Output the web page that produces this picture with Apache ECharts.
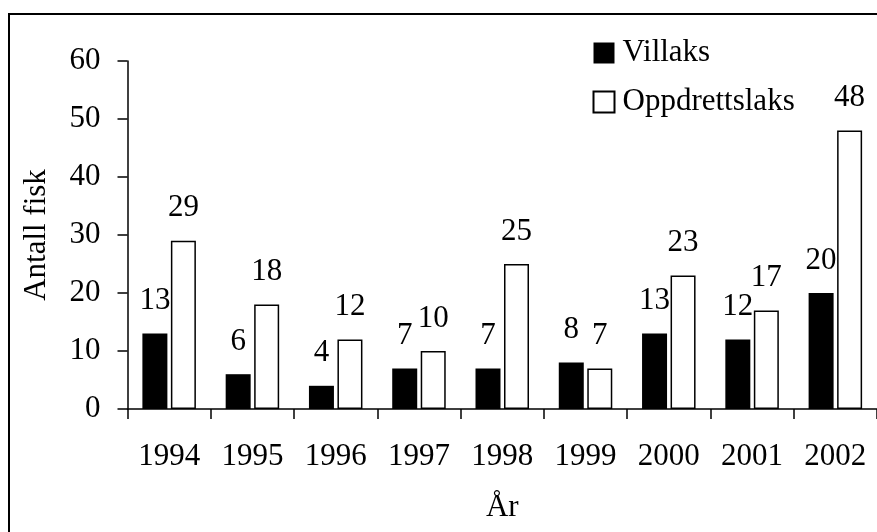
<!DOCTYPE html>
<html>
<head>
<meta charset="utf-8">
<script src="https://cdn.jsdelivr.net/npm/echarts@6/dist/echarts.min.js"></script>
<style>
  html, body { margin: 0; padding: 0; background: #fff; }
  #main { width: 877px; height: 532px; }
</style>
</head>
<body>
<div id="main"></div>
<script>
// data
var years = ['1994', '1995', '1996', '1997', '1998', '1999', '2000', '2001', '2002'];
var villaks = [13, 6, 4, 7, 7, 8, 13, 12, 20];
var oppdrettslaks = [29, 18, 12, 10, 25, 7, 23, 17, 48];

var font = "'Liberation Serif', 'Times New Roman', serif";

var chart = echarts.init(document.getElementById('main'));
var option = {
  animation: false,
  backgroundColor: '#fff',
  textStyle: { fontFamily: font, color: '#000' },
  grid: { left: 127.5, top: 61, width: 751, height: 348 },
  // ramme rundt figuren
  graphic: [{
    type: 'rect',
    shape: { x: 9, y: 14, width: 900, height: 600 },
    style: { fill: 'none', stroke: '#000', lineWidth: 2 },
    silent: true
  }],
  legend: {
    orient: 'vertical',
    left: 592.5,
    top: 37.5,
    padding: 0,
    itemWidth: 21,
    itemHeight: 21,
    itemGap: 18,
    icon: 'rect',
    textStyle: { fontFamily: font, fontSize: 31, color: '#000', padding: [0, 0, 0, 3] },
    data: ['Villaks', 'Oppdrettslaks']
  },
  xAxis: {
    type: 'category',
    data: years,
    name: 'År',
    nameLocation: 'middle',
    nameGap: 83,
    nameTextStyle: { fontFamily: font, fontSize: 31, color: '#000' },
    axisLine: { lineStyle: { color: '#000', width: 1.5 } },
    axisTick: { show: true, alignWithLabel: false, inside: false, length: 10, lineStyle: { color: '#000', width: 1.5 } },
    axisLabel: { fontFamily: font, fontSize: 31, color: '#000', margin: 32 },
    splitLine: { show: false }
  },
  yAxis: {
    type: 'value',
    min: 0,
    max: 60,
    interval: 10,
    name: 'Antall fisk',
    nameLocation: 'middle',
    nameRotate: 90,
    nameGap: 75,
    nameTextStyle: { fontFamily: font, fontSize: 31, color: '#000' },
    axisLine: { show: true, lineStyle: { color: '#000', width: 1.5 } },
    axisTick: { show: true, length: 10, lineStyle: { color: '#000', width: 1.5 } },
    axisLabel: { fontFamily: font, fontSize: 31, color: '#000', margin: 27 },
    splitLine: { show: false }
  },
  series: [
    {
      name: 'Villaks',
      type: 'bar',
      data: villaks,
      barWidth: 25,
      barGap: '14%',
      itemStyle: { color: '#000' },
      label: { show: true, position: 'top', distance: 17, fontFamily: font, fontSize: 31, color: '#000' }
    },
    {
      name: 'Oppdrettslaks',
      type: 'bar',
      data: oppdrettslaks,
      barWidth: 25,
      barGap: '14%',
      itemStyle: { color: '#fff', borderColor: '#000', borderWidth: 1.5 },
      label: { show: true, position: 'top', distance: 17, fontFamily: font, fontSize: 31, color: '#000' }
    }
  ]
};
chart.setOption(option);
</script>
</body>
</html>
